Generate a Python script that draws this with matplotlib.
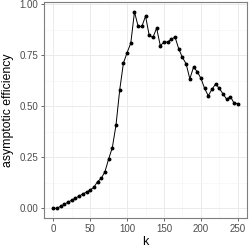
import matplotlib
matplotlib.use("Agg")
import matplotlib.pyplot as plt
import numpy as np

plt.rcParams['font.family'] = ['Liberation Sans', 'DejaVu Sans']

k = list(range(0, 255, 5))
efficiency = [0.00, 0.00, 0.01, 0.02, 0.03, 0.04, 0.05, 0.06, 0.07, 0.08,
              0.09, 0.103, 0.131, 0.147, 0.18, 0.242, 0.298, 0.409, 0.581, 0.712,
              0.764, 0.81, 0.964, 0.892, 0.892, 0.943, 0.848, 0.838, 0.884, 0.798,
              0.815, 0.816, 0.83, 0.84, 0.782, 0.74, 0.709, 0.635, 0.692, 0.671,
              0.638, 0.589, 0.552, 0.584, 0.61, 0.588, 0.561, 0.535, 0.548, 0.516,
              0.514]
xticks = [0, 50, 100, 150, 200, 250]
yticks = [0.00, 0.25, 0.50, 0.75, 1.00]

fig = plt.figure(figsize=(2.49, 2.49), dpi=100)
ax = fig.add_axes([0.177, 0.124, 0.815, 0.868])

ax.plot(k, efficiency, color='black', linewidth=0.7, marker='o', markersize=1.8, zorder=3)

ax.set_xlim(-12.5, 262.5)
ax.set_ylim(-0.0482, 1.0122)
ax.set_xticks(xticks)
ax.set_yticks(yticks)
ax.set_yticklabels([f'{v:.2f}' for v in yticks])
ax.set_xticks([25, 75, 125, 175, 225], minor=True)
ax.set_yticks([0.125, 0.375, 0.625, 0.875], minor=True)

ax.grid(which='major', color='#ebebeb', linewidth=0.7)
ax.grid(which='minor', color='#f4f4f4', linewidth=0.4)
ax.set_axisbelow(True)

for s in ax.spines.values():
    s.set_color('#7f7f7f')
    s.set_linewidth(0.8)

ax.tick_params(which='major', length=2.5, width=0.6, color='#4d4d4d',
               labelsize=7, labelcolor='#4d4d4d', pad=1.5)
ax.tick_params(which='minor', length=0)

ax.set_xlabel('k', fontsize=9, labelpad=1.5)
ax.set_ylabel('asymptotic efficiency', fontsize=8.8, labelpad=4)

fig.savefig('out.png', dpi=100)
